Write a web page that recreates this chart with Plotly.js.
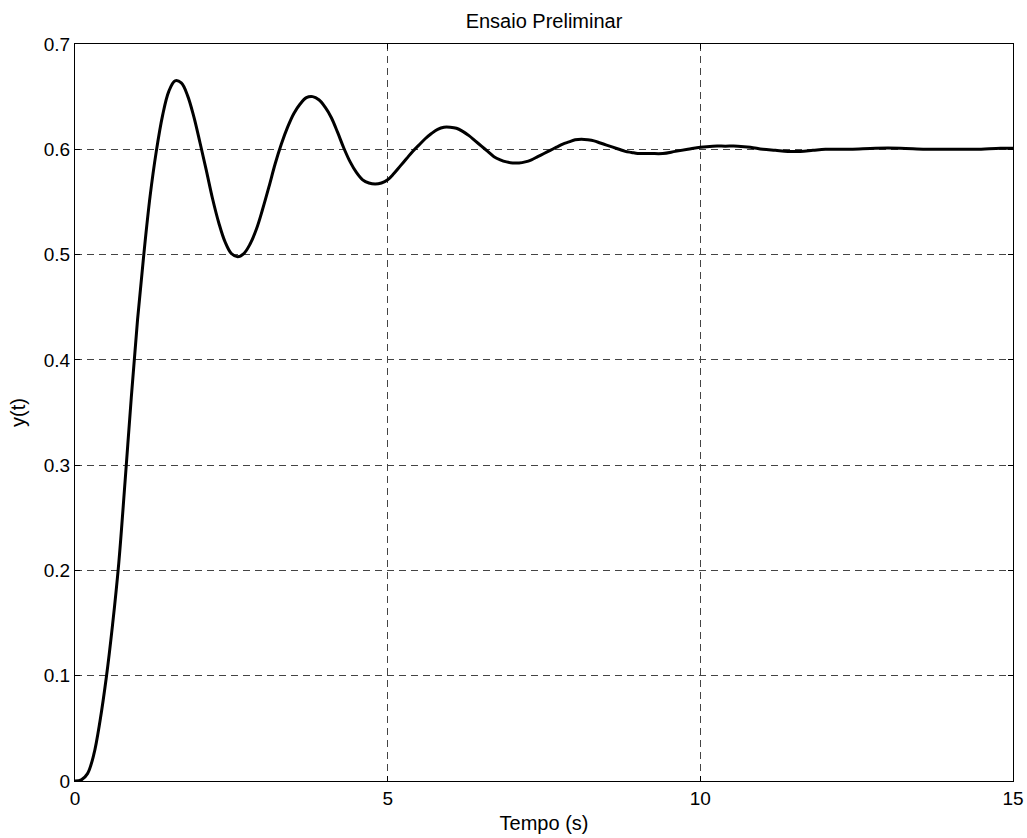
<!DOCTYPE html>
<html>
<head>
<meta charset="utf-8">
<script src="https://cdn.plot.ly/plotly-3.0.1.min.js"></script>
<style>html,body{margin:0;padding:0;background:#fff;}#chart{width:1027px;height:838px;}</style>
</head>
<body>
<div id="chart"></div>
<script>
const chartTitle = "Ensaio Preliminar";
const xLabel = "Tempo (s)";
const yLabel = "y(t)";
const xTickVals = [0, 5, 10, 15];
const yTickVals = [0, 0.1, 0.2, 0.3, 0.4, 0.5, 0.6, 0.7];
const yTickText = ["0", "0.1", "0.2", "0.3", "0.4", "0.5", "0.6", "0.7"];

const time = [
  0, 0.1, 0.2, 0.3, 0.4, 0.5, 0.6, 0.7, 0.8, 0.9,
  1.0, 1.1, 1.2, 1.3, 1.4, 1.5, 1.6, 1.7, 1.8, 1.9,
  2.0, 2.1, 2.2, 2.3, 2.4, 2.5, 2.6, 2.7, 2.8, 2.9,
  3.0, 3.1, 3.2, 3.3, 3.4, 3.5, 3.6, 3.7, 3.8, 3.9,
  4.0, 4.1, 4.2, 4.3, 4.4, 4.5, 4.6, 4.7, 4.8, 4.9,
  5.0, 5.1, 5.2, 5.3, 5.4, 5.5, 5.6, 5.7, 5.8, 5.9,
  6.0, 6.1, 6.2, 6.3, 6.4, 6.5, 6.6, 6.7, 6.8, 6.9,
  7.0, 7.1, 7.2, 7.3, 7.4, 7.5, 7.6, 7.7, 7.8, 7.9,
  8.0, 8.1, 8.2, 8.3, 8.4, 8.5, 8.6, 8.7, 8.8, 8.9,
  9.0, 9.2, 9.4, 9.6, 9.8, 10.0, 10.2, 10.4, 10.6, 10.8,
  11.0, 11.2, 11.4, 11.6, 11.8, 12.0, 12.4, 12.8, 13.2, 13.6,
  14.0, 14.4, 14.8, 15.0
];
const response = [
  0, 0.001, 0.007, 0.025, 0.057, 0.098, 0.148, 0.207, 0.284, 0.364,
  0.438, 0.500, 0.555, 0.598, 0.632, 0.655, 0.665, 0.663, 0.651, 0.631,
  0.606, 0.580, 0.553, 0.530, 0.512, 0.501, 0.498, 0.501, 0.510, 0.524,
  0.543, 0.564, 0.586, 0.605, 0.621, 0.634, 0.643, 0.649, 0.650, 0.647,
  0.640, 0.630, 0.616, 0.601, 0.588, 0.578, 0.571, 0.568, 0.567, 0.568,
  0.571, 0.577, 0.584, 0.591, 0.598, 0.604, 0.610, 0.615, 0.619, 0.621,
  0.621, 0.620, 0.617, 0.613, 0.608, 0.603, 0.598, 0.593, 0.590, 0.588,
  0.587, 0.587, 0.588, 0.590, 0.593, 0.596, 0.599, 0.602, 0.605, 0.607,
  0.609, 0.6095, 0.609, 0.608, 0.606, 0.604, 0.602, 0.600, 0.598, 0.597,
  0.596, 0.596, 0.596, 0.598, 0.600, 0.602, 0.603, 0.603, 0.603, 0.602,
  0.600, 0.599, 0.598, 0.598, 0.599, 0.600, 0.600, 0.601, 0.601, 0.600,
  0.600, 0.600, 0.601, 0.601
];

const fam = "Liberation Sans, Arial, Helvetica, sans-serif";
const tickFont = {family: fam, size: 19, color: "#000"};
const labelFont = {family: fam, size: 20, color: "#000"};

const trace = {
  x: time, y: response, type: "scatter", mode: "lines",
  line: {color: "#000", width: 3, shape: "spline", smoothing: 1},
  hoverinfo: "skip", showlegend: false
};

const axisCommon = {
  showline: true, linecolor: "#000", linewidth: 1, mirror: "ticks",
  ticks: "inside", ticklen: 5, tickcolor: "#000", tickwidth: 1,
  showgrid: true, gridcolor: "#444", gridwidth: 1, griddash: "7px,5px",
  zeroline: false, tickfont: tickFont
};

const layout = {
  width: 1027, height: 838,
  margin: {l: 75, r: 14, t: 44, b: 57},
  paper_bgcolor: "#fff", plot_bgcolor: "#fff",
  font: tickFont,
  title: {text: chartTitle, font: labelFont, x: 0.5, xref: "paper", xanchor: "center", y: 1, yref: "paper", yanchor: "bottom", pad: {b: 16}},
  xaxis: Object.assign({}, axisCommon, {
    range: [0, 15], tickvals: xTickVals, ticktext: xTickVals.map(String),
    title: {text: xLabel, font: labelFont, standoff: 8}
  }),
  yaxis: Object.assign({}, axisCommon, {
    range: [0, 0.7], tickvals: yTickVals, ticktext: yTickText,
    title: {text: yLabel, font: labelFont, standoff: 12}
  })
};

Plotly.newPlot("chart", [trace], layout, {staticPlot: true, displayModeBar: false});
</script>
</body>
</html>
